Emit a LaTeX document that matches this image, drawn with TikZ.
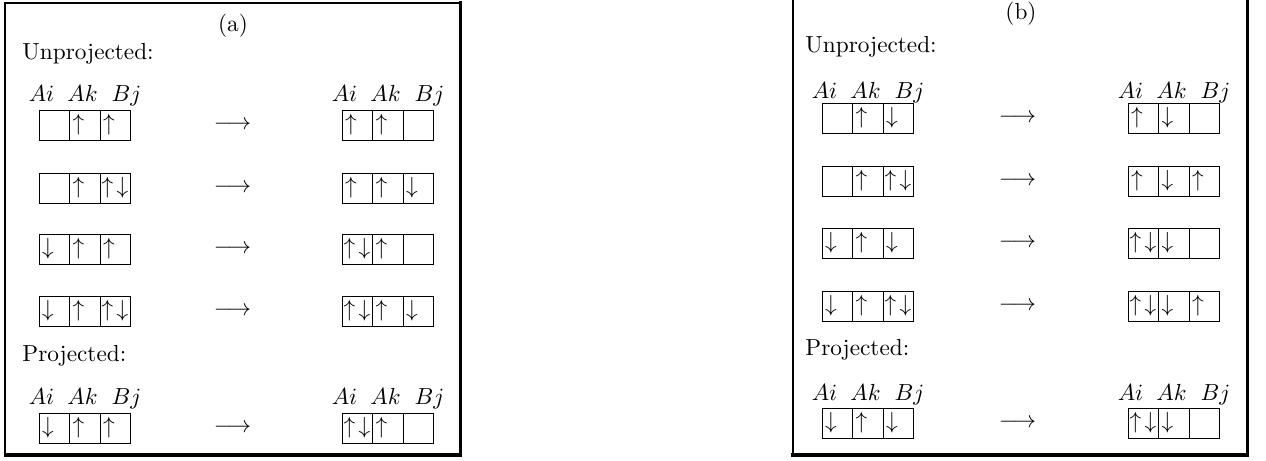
\documentclass[tikz,border=0pt]{standalone}
\usetikzlibrary{calc}

% spin contents of one orbital box: E empty, U up, D down, P paired
\newcommand\spinE[1]{}
\newcommand\spinU[1]{\node[spin] (#1-u) at ($(#1.west)+(9.5,0)$) {$\uparrow$};}
\newcommand\spinD[1]{\node[spin] (#1-d) at ($(#1.west)+(9.5,0)$) {$\downarrow$};}
\newcommand\spinP[1]{%
  \node[spin] (#1-u) at ($(#1.west)+(8,0)$) {$\uparrow$};
  \node[spin] (#1-d) at ($(#1.west)+(23,0)$) {$\downarrow$};}

% a row of three orbital boxes: name, left x, top y, three codes
\newcommand\orbrow[4]{%
  \foreach \c [count=\k] in {#4} {
    \node[cell] (#1-\k) at ({#2+(\k-1)*30.5+15.25},{#3+15}) {};
    \csname spin\c\endcsname{#1-\k}
  }}

% one transition: name, left x, right x, arrow x, top y, left codes, right codes
\newcommand\transition[7]{%
  \orbrow{#1L}{#2}{#5}{#6}
  \orbrow{#1R}{#3}{#5}{#7}
  \node[spin] (#1-arrow) at (#4,{#5+15}) {$\longrightarrow$};}

% orbital labels above a row of boxes: name, left x, baseline y
\newcommand\orblabels[3]{%
  \node[lbl] (#1-i) at ({#2+2.5},#3) {$Ai$};
  \node[lbl] (#1-k) at ({#2+43.5},#3) {$Ak$};
  \node[lbl] (#1-j) at ({#2+87.5},#3) {$Bj$};}

\begin{document}
\begin{tikzpicture}[x=0.43pt,y=-0.43pt,
  cell/.style={draw, line width=0.42pt, rectangle, inner sep=0pt,
    minimum width=13.115pt, minimum height=12.9pt},
  spin/.style={inner sep=0pt},
  lbl/.style={inner sep=0pt, anchor=base},
  heading/.style={inner sep=0pt, anchor=base west},
  title/.style={inner sep=0pt, anchor=base},
  thinframe/.style={line width=0.86pt, line cap=rect},
  thickframe/.style={line width=1.42pt, line cap=rect}]

\useasboundingbox (0,0) rectangle (1266,460);

% ---------------- panel (a) ----------------
\draw[thinframe] (5.4,455) -- (5.4,2.5) -- (460.8,2.5);
\draw[thickframe] (460.8,2.5) -- (460.8,455) -- (5.4,455);

\node[title] (a-title) at (233,31) {(a)};
\node[heading] (a-unproj) at (22,59) {Unprojected:};
\orblabels{a-lblL}{39}{101}
\orblabels{a-lblR}{342}{101}
\transition{a1}{39}{342}{232.5}{110}{E,U,U}{U,U,E}
\transition{a2}{39}{342}{232.5}{173}{E,U,P}{U,U,D}
\transition{a3}{39}{342}{232.5}{234}{D,U,U}{P,U,E}
\transition{a4}{39}{342}{232.5}{296}{D,U,P}{P,U,D}
\node[heading] (a-proj) at (22,361) {Projected:};
\orblabels{a-plblL}{39}{404}
\orblabels{a-plblR}{342}{404}
\transition{a5}{39}{342}{232.5}{413}{D,U,U}{P,U,E}

% ---------------- panel (b) ----------------
\draw[thinframe] (793,455) -- (793,-5) -- (1247.5,-5);
\draw[thickframe] (1247.5,-5) -- (1247.5,455) -- (793,455);

\node[title] (b-title) at (1021,19) {(b)};
\node[heading] (b-unproj) at (805,52) {Unprojected:};
\orblabels{b-lblL}{822}{98}
\orblabels{b-lblR}{1128}{98}
\transition{b1}{822}{1128}{1017.5}{103}{E,U,D}{U,D,E}
\transition{b2}{822}{1128}{1017.5}{166}{E,U,P}{U,D,U}
\transition{b3}{822}{1128}{1017.5}{228}{D,U,D}{P,D,E}
\transition{b4}{822}{1128}{1017.5}{291}{D,U,P}{P,D,U}
\node[heading] (b-proj) at (805,355) {Projected:};
\orblabels{b-plblL}{822}{400}
\orblabels{b-plblR}{1128}{400}
\transition{b5}{822}{1128}{1017.5}{408}{D,U,D}{P,D,E}

\end{tikzpicture}
\end{document}
